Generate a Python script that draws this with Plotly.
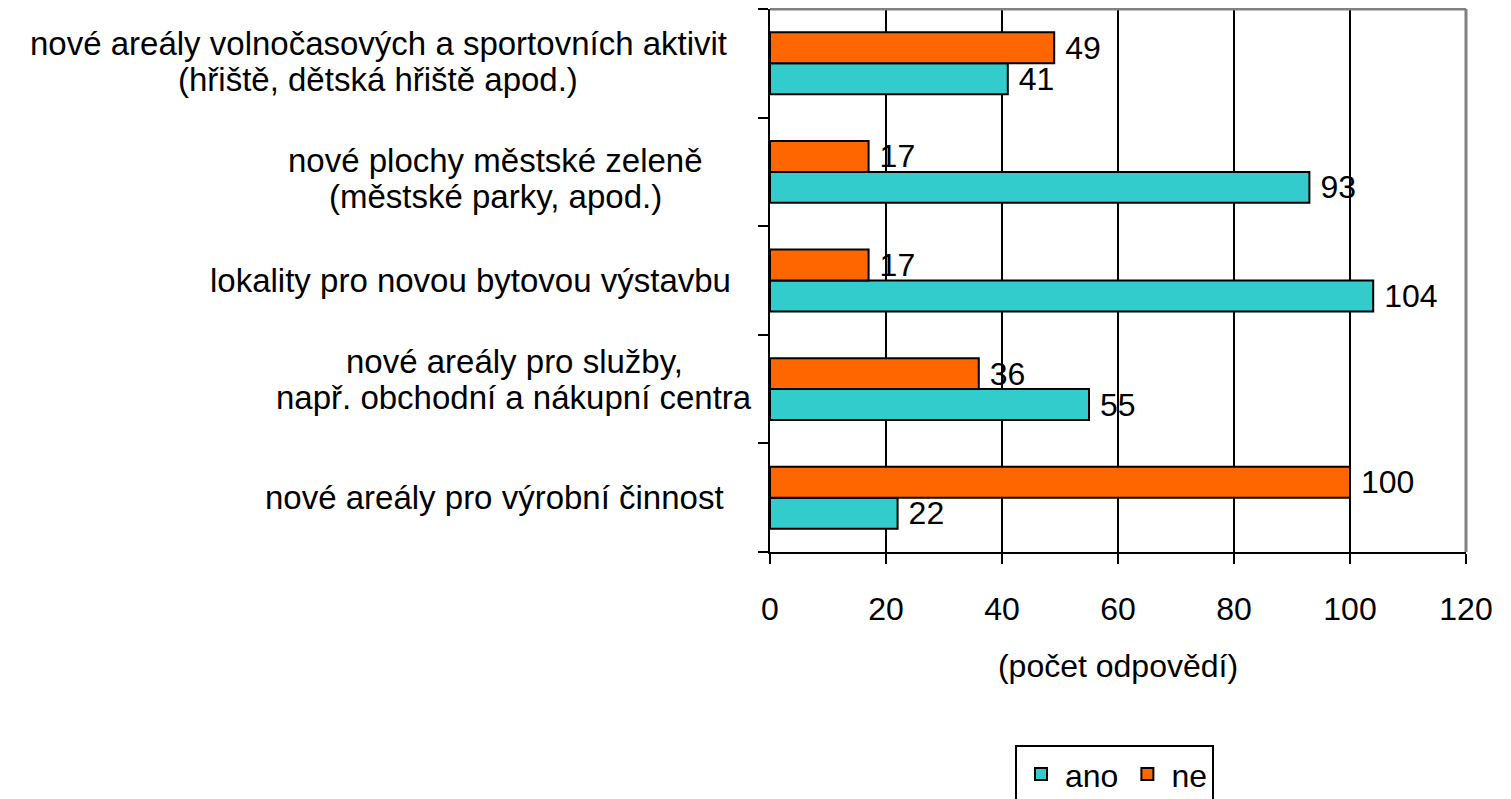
import plotly.graph_objects as go

# ---- data (bottom to top) ----
categories = [
    "nové areály pro výrobní činnost",
    "nové areály pro služby,\nnapř. obchodní a nákupní centra",
    "lokality pro novou bytovou výstavbu",
    "nové plochy městské zeleně\n(městské parky, apod.)",
    "nové areály volnočasových a sportovních aktivit\n(hřiště, dětská hřiště apod.)",
]
ano = [22, 55, 104, 93, 41]
ne = [100, 36, 17, 17, 49]
series_names = ["ano", "ne"]
x_ticks = [0, 20, 40, 60, 80, 100, 120]
x_title = "(počet odpovědí)"

# ---- styles ----
FONT = "Liberation Sans, Arial, sans-serif"
FS = 32
LABEL_FS = 33
TEAL = "#33CCCC"
ORANGE = "#FF6600"
label_xshift = [-276, -256, -300, -275, -392]
label_yshift = [0, 10, 0, -7, 2]
line_gap = 36

fig = go.Figure()
for name, vals, col in [(series_names[0], ano, TEAL), (series_names[1], ne, ORANGE)]:
    fig.add_trace(go.Bar(
        y=categories, x=vals, name=name, orientation="h",
        marker=dict(color=col, line=dict(color="black", width=2)),
        text=[str(v) for v in vals], textposition="outside",
        texttemplate="\u2005%{text}",
        textfont=dict(family=FONT, size=FS, color="black"),
        constraintext="none", cliponaxis=False,
    ))

annotations = []
for cat, xs, ys in zip(categories, label_xshift, label_yshift):
    lines = cat.split("\n")
    n = len(lines)
    for j, ln in enumerate(lines):
        annotations.append(dict(
            x=0, xref="paper", y=cat, yref="y", text=ln, showarrow=False,
            xanchor="center", yanchor="middle", xshift=xs,
            yshift=ys + ((n - 1) / 2 - j) * line_gap,
            font=dict(family=FONT, size=LABEL_FS, color="black"),
        ))

# page body has an 8px margin, so the figure is shrunk and offset accordingly
fig.update_layout(
    width=1503, height=791, autosize=False,
    margin=dict(l=762, r=45, t=1, b=247, autoexpand=False),
    paper_bgcolor="white", plot_bgcolor="white",
    barmode="group", bargap=0.43, bargroupgap=0,
    font=dict(family=FONT, size=FS, color="black"),
    showlegend=True,
    legend=dict(
        orientation="h", x=0.352, y=-0.355, xanchor="left", yanchor="top",
        bordercolor="black", borderwidth=2, bgcolor="white",
        font=dict(family=FONT, size=FS, color="black"),
        traceorder="normal", itemwidth=38,
    ),
    annotations=annotations,
    shapes=[
        dict(type="line", xref="paper", yref="paper", x0=0, x1=1, y0=1, y1=1,
             line=dict(color="#808080", width=3), layer="above"),
        dict(type="line", xref="paper", yref="paper", x0=1, x1=1, y0=0, y1=1,
             line=dict(color="#808080", width=3), layer="above"),
    ],
)
fig.update_xaxes(
    range=[0, 120], tickvals=x_ticks, ticks="outside", ticklen=10, tickwidth=2,
    tickcolor="black", showgrid=True, gridcolor="black", gridwidth=2,
    zeroline=False, showline=True, linecolor="black", linewidth=2, automargin=False,
    tickfont=dict(family=FONT, size=FS, color="black"), ticklabelstandoff=18,
    title=dict(text=x_title, font=dict(family=FONT, size=FS, color="black"), standoff=28),
)
fig.update_yaxes(
    type="category", categoryorder="array", categoryarray=categories,
    showticklabels=False, ticks="outside", ticklen=10, tickwidth=2, tickcolor="black",
    tickson="boundaries", showgrid=False, zeroline=False, automargin=False,
    showline=True, linecolor="black", linewidth=2,
)
fig.write_html("out.html")
